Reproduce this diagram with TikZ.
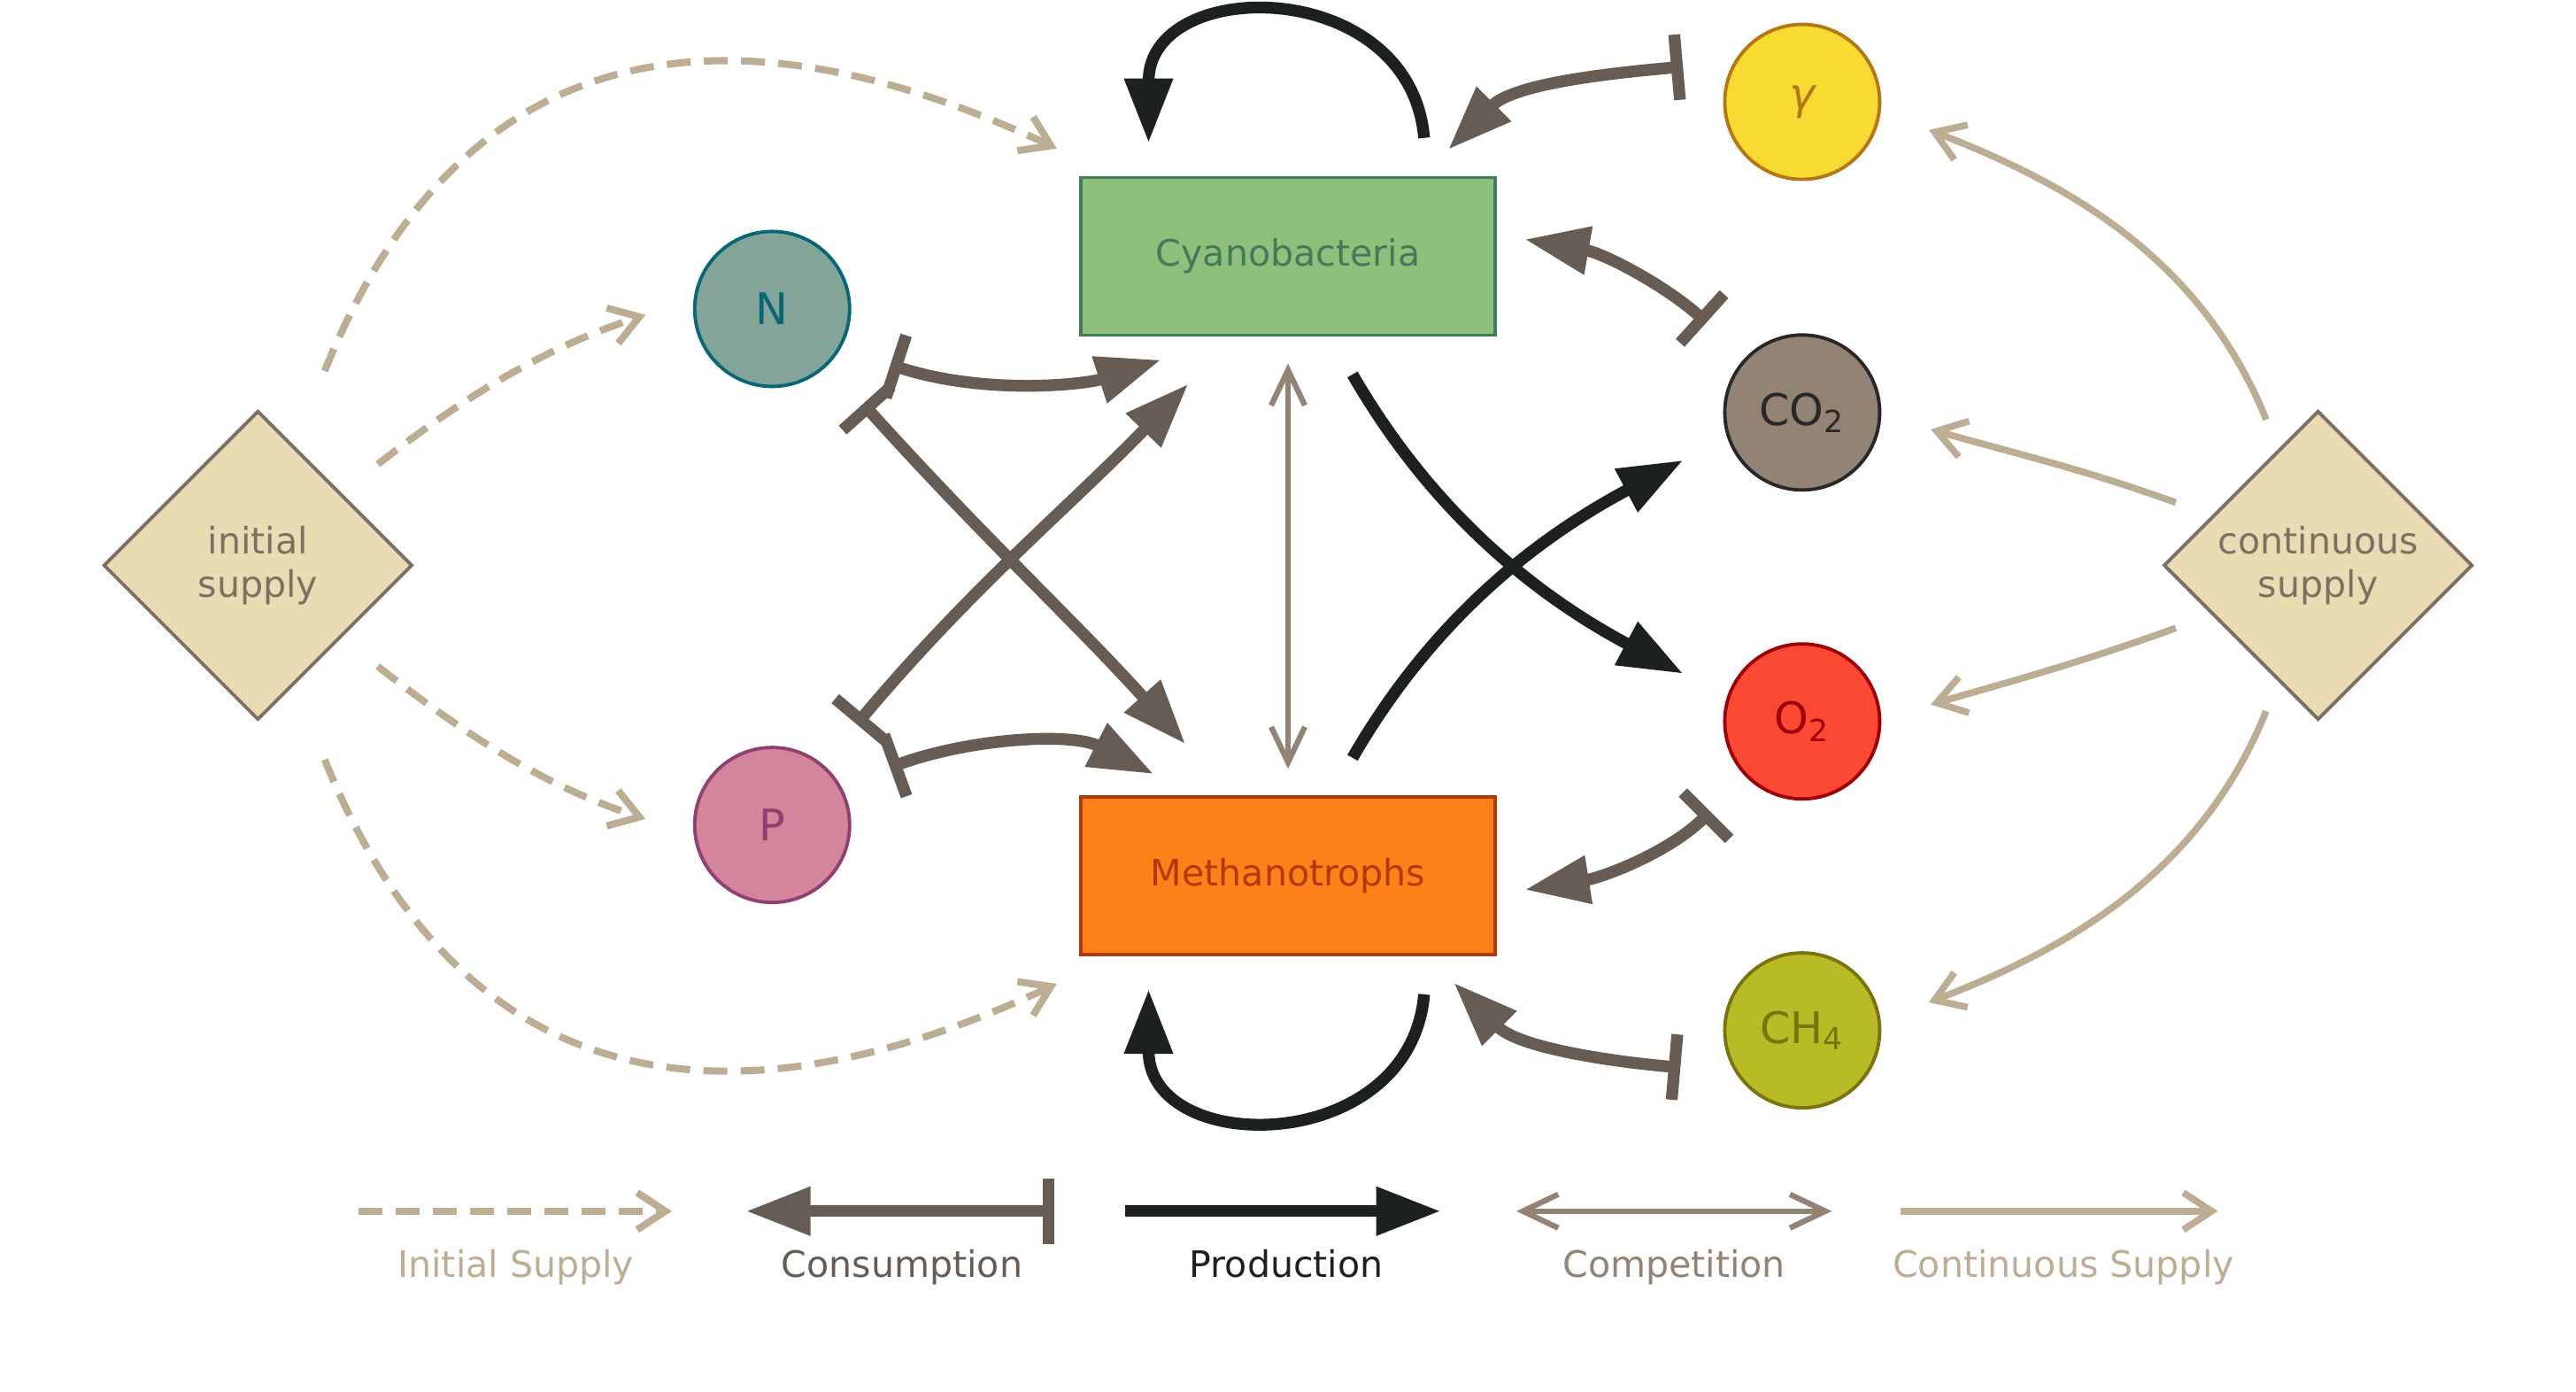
\documentclass[tikz,border=0pt]{standalone}
\usepackage{fontspec}
\setmainfont{DejaVu Sans}
\usepackage{xcolor}
\definecolor{gbtan}{HTML}{BDAE93}
\definecolor{gbcons}{HTML}{665C54}
\definecolor{gbprod}{HTML}{1D2021}
\definecolor{gbgray}{HTML}{928374}
\definecolor{gbtext}{HTML}{7C6F64}
\definecolor{gbsand}{HTML}{EBDBB2}
\definecolor{cyanfill}{HTML}{8EC07C}
\definecolor{cyanline}{HTML}{427B58}
\definecolor{methfill}{HTML}{FE8019}
\definecolor{methline}{HTML}{AF3A03}
\definecolor{nfill}{HTML}{83A598}
\definecolor{nline}{HTML}{076678}
\definecolor{pfill}{HTML}{D3869B}
\definecolor{pline}{HTML}{8F3F71}
\definecolor{gfill}{HTML}{F8DB32}
\definecolor{gline}{HTML}{B57614}
\definecolor{coline}{HTML}{282828}
\definecolor{ofill}{HTML}{FB4934}
\definecolor{oline}{HTML}{9D0006}
\definecolor{chfill}{HTML}{B8BB26}
\definecolor{chline}{HTML}{79740E}
\usetikzlibrary{positioning,arrows.meta,shapes.geometric}

\begin{document}
\begin{tikzpicture}[
  x=1.8558cm, y=1.8558cm,
  font=\fontsize{11.7}{14}\selectfont,
  organism/.style={draw, line width=1.1pt, minimum width=46.8mm,
                   minimum height=17.8mm, inner sep=0pt},
  chem/.style={circle, draw, line width=1.1pt, minimum size=17.5mm, inner sep=0pt,
               font=\fontsize{14}{17}\selectfont},
  supply/.style={diamond, draw=gbtext, fill=gbsand, text=gbtext, line width=1.1pt,
                 minimum width=34.9mm, minimum height=34.9mm, inner sep=0pt,
                 align=center},
  consume/.style={line width=3.8pt, gbcons,
                  arrows={Bar[width=7.4mm]-Triangle[length=7.3mm,width=5.2mm]}},
  produce/.style={line width=3.8pt, gbprod,
                  arrows={-Triangle[length=7.3mm,width=5.2mm]}},
  compete/.style={line width=1.8pt, gbgray,
                  arrows={Straight Barb[length=4mm,width=3.8mm]-Straight Barb[length=4mm,width=3.8mm]}},
  isupply/.style={line width=2.3pt, gbtan, dash pattern=on 2.7mm off 1.5mm,
                  arrows={-Straight Barb[length=3.2mm,width=4.2mm]}},
  csupply/.style={line width=2.2pt, gbtan,
                  arrows={-Straight Barb[length=3.2mm,width=4.2mm]}},
  legtext/.style={anchor=base}
]
\useasboundingbox (0,0) rectangle (15.68,8.47);

%% Organisms
\node (cyano) [organism, fill=cyanfill, draw=cyanline, text=cyanline] at (7.84,6.91) {Cyanobacteria};
\node (metha) [organism, fill=methfill, draw=methline, text=methline] at (7.84,3.14) {Methanotrophs};

%% Nutrients and gases
\node (N)   [chem, fill=nfill, draw=nline, text=nline] at (4.70,6.59) {N};
\node (P)   [chem, fill=pfill, draw=pline, text=pline] at (4.70,3.45) {P};
\node (gam) [chem, fill=gfill, draw=gline, text=gline] at (10.97,7.85) {\itshape γ};
\node (co2) [chem, fill=gbgray, draw=coline, text=coline] at (10.97,5.96) {CO\textsubscript{2}};
\node (o2)  [chem, fill=ofill, draw=oline, text=oline] at (10.97,4.08) {O\textsubscript{2}};
\node (ch4) [chem, fill=chfill, draw=chline, text=chline] at (10.97,2.20) {CH\textsubscript{4}};

%% Supplies
\node (init) [supply] at (1.57,5.03) {initial\\supply};
\node (cont) [supply] at (14.11,5.03) {continuous\\supply};

%% Production
\draw [produce, shorten <=4.3mm, shorten >=3.7mm] (cyano.30) to[out=95, in=90, looseness=1.85] (cyano.150);
\draw [produce, shorten <=4.3mm, shorten >=3.7mm] (metha.-30) to[out=-95, in=-90, looseness=1.85] (metha.-150);
\draw [produce, shorten <=4.9mm, shorten >=5.6mm] (cyano.-62) to[out=-60, in=152] (o2.162);
\draw [produce, shorten <=4.9mm, shorten >=5.6mm] (metha.62) to[out=60, in=-152] (co2.-162);

%% Consumption
\draw [consume, shorten <=5.9mm, shorten >=8.4mm] (N.-30) to[out=-18, in=198] (cyano.-125);
\draw [consume, shorten <=5.9mm, shorten >=7.8mm] (N.-45) to[out=-48, in=132] (metha.125);
\draw [consume, shorten <=5.9mm, shorten >=7.4mm] (P.50) to[out=50, in=226] (cyano.-124);
\draw [consume, shorten <=5.9mm, shorten >=5.3mm] (P.30) to[out=20, in=153] (metha.139);
\draw [consume, shorten <=5.75mm, shorten >=4.2mm] (gam.150) to[out=185, in=45] (cyano.31);
\draw [consume, shorten <=5.9mm, shorten >=3.2mm] (co2.136) to[out=138, in=-10] (cyano.6);
\draw [consume, shorten <=5.6mm, shorten >=3.2mm] (o2.224) to[out=225, in=9] (metha.-5);
\draw [consume, shorten <=6.2mm, shorten >=4.2mm] (ch4.212) to[out=175, in=-45] (metha.-30);

%% Competition
\draw [compete, shorten <=3mm, shorten >=3mm] (cyano) -- (metha);

%% Initial supply
\draw [isupply, shorten <=9.1mm, shorten >=7.3mm] (init.73) to[out=68, in=155, looseness=1.3] (cyano.155);
\draw [isupply, shorten <=5.2mm, shorten >=5.7mm] (init.41) to[out=38, in=198] (N.173);
\draw [isupply, shorten <=5.2mm, shorten >=5.7mm] (init.-41) to[out=-38, in=162] (P.187);
\draw [isupply, shorten <=9.1mm, shorten >=7.3mm] (init.-73) to[out=-68, in=-155, looseness=1.3] (metha.-155);

%% Continuous supply
\draw [csupply, shorten <=3.6mm, shorten >=5.8mm] (cont.109) to[out=112, in=-21] (gam.-7);
\draw [csupply, shorten <=4.3mm, shorten >=5.8mm] (cont.155) to[out=160, in=-16] (co2.-2);
\draw [csupply, shorten <=4.3mm, shorten >=5.8mm] (cont.-155) to[out=-160, in=16] (o2.2);
\draw [csupply, shorten <=3.6mm, shorten >=5.8mm] (cont.-109) to[out=-112, in=21] (ch4.7);

%% Legend
\coordinate (lgIa) at (2.18,1.10);  \coordinate (lgIb) at (4.09,1.10);
\coordinate (lgCa) at (6.42,1.10);  \coordinate (lgCb) at (4.54,1.10);
\coordinate (lgPa) at (6.85,1.10);  \coordinate (lgPb) at (8.77,1.10);
\coordinate (lgKa) at (9.23,1.10);  \coordinate (lgKb) at (11.15,1.10);
\coordinate (lgSa) at (11.57,1.10); \coordinate (lgSb) at (13.50,1.10);
\draw [isupply] (lgIa) -- (lgIb);
\draw [consume] (lgCa) -- (lgCb);
\draw [produce] (lgPa) -- (lgPb);
\draw [compete] (lgKa) -- (lgKb);
\draw [csupply] (lgSa) -- (lgSb);
\node (lgI) [legtext, text=gbtan]  at (3.14,0.70)  {Initial Supply};
\node (lgC) [legtext, text=gbcons] at (5.49,0.70)  {Consumption};
\node (lgP) [legtext, text=gbprod] at (7.83,0.70)  {Production};
\node (lgK) [legtext, text=gbgray] at (10.19,0.70) {Competition};
\node (lgS) [legtext, text=gbtan]  at (12.56,0.70) {Continuous Supply};

\end{tikzpicture}
\end{document}
